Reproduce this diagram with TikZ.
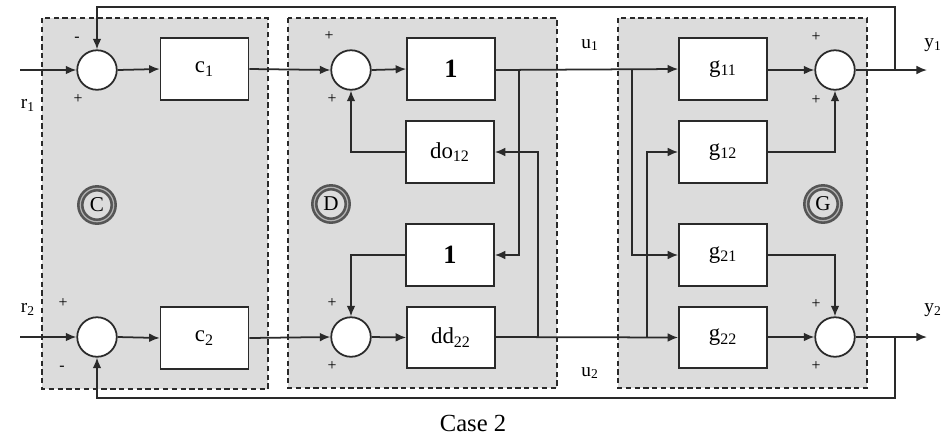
\documentclass[tikz,border=0pt]{standalone}
\usepackage{fontspec}
\setmainfont{Liberation Serif}
\usetikzlibrary{arrows.meta}
\definecolor{panelgray}{HTML}{DCDCDC}
\definecolor{linegray}{HTML}{2A2A2A}
\tikzset{
  panel/.style={draw=linegray, fill=panelgray, line width=1.1pt, dash pattern=on 3pt off 2pt},
  blk/.style={draw=linegray, fill=white, line width=1pt, minimum width=50pt, minimum height=35pt, inner sep=0pt, font=\fontsize{13}{15}\selectfont},
  sumnode/.style={circle, draw=linegray, fill=white, line width=1pt, minimum size=22.5pt, inner sep=0pt},
  wire/.style={draw=linegray, line width=1pt},
  arr/.style={wire, -{Latex[length=6pt,width=5pt]}},
  sgn/.style={font=\fontsize{9}{10}\selectfont, inner sep=0pt},
  lbl/.style={font=\fontsize{11}{13}\selectfont, inner sep=0pt},
  tag/.style={circle, draw=linegray!80, line width=1.5pt, minimum size=19pt, inner sep=0pt, double=gray!60, double distance=0.7pt, font=\fontsize{12}{14}\selectfont}
}
\begin{document}
\begin{tikzpicture}[x=0.02cm,y=-0.02cm]
\useasboundingbox[fill=white] (0,0) rectangle (951,441);
% panels
\draw[panel] (42,18) rectangle (268,389);
\draw[panel] (288,18) rectangle (557,388);
\draw[panel] (618,18) rectangle (867,388);
% panel tags
\node[tag] (tC) at (97,205) {C};
\node[tag] (tD) at (331,204) {D};
\node[tag] (tG) at (823,204) {G};
% summers
\node[sumnode] (sC1) at (97,70) {};
\node[sumnode] (sC2) at (97,337) {};
\node[sumnode] (sD1) at (351,70) {};
\node[sumnode] (sD2) at (351,337) {};
\node[sumnode] (sG1) at (835,70) {};
\node[sumnode] (sG2) at (835,337) {};
% blocks
\node[blk] (c1) at (204.5,69) {c\textsubscript{1}};
\node[blk] (c2) at (204.5,338) {c\textsubscript{2}};
\node[blk, font=\fontsize{15}{17}\selectfont\bfseries] (one1) at (451,69) {1};
\node[blk] (do12) at (450,152) {do\textsubscript{12}};
\node[blk, font=\fontsize{15}{17}\selectfont\bfseries] (one2) at (450,255) {1};
\node[blk] (dd22) at (451,337.5) {dd\textsubscript{22}};
\node[blk] (g11) at (723,69) {g\textsubscript{11}};
\node[blk] (g12) at (723,152) {g\textsubscript{12}};
\node[blk] (g21) at (723,255) {g\textsubscript{21}};
\node[blk] (g22) at (723,337.5) {g\textsubscript{22}};
% coordinates
\coordinate (in1) at (20,70);
\coordinate (in2) at (20,337);
\coordinate (out1) at (927,70);
\coordinate (out2) at (927,337);
\coordinate (fb1) at (895,70);
\coordinate (fb2) at (895,337);
\coordinate (j1) at (519,70);
\coordinate (j2) at (538,337);
\coordinate (j3) at (632,70);
\coordinate (j4) at (647,337);
% C
\draw[arr] (in1) -- (sC1.west);
\draw[arr] (in2) -- (sC2.west);
\draw[arr] (sC1.east) -- (c1.west);
\draw[arr] (sC2.east) -- (c2.west);
\draw[arr] (c1.east) -- (sD1.west);
\draw[arr] (c2.east) -- (sD2.west);
% D
\draw[arr] (sD1.east) -- (one1.west);
\draw[arr] (sD2.east) -- (dd22.west);
\draw[arr] (do12.west) -| (sD1.south);
\draw[arr] (one2.west) -| (sD2.north);
\draw[arr] (one1.east |- sD1) -- (g11.west);
\draw[arr] (dd22.east |- sD2) -- (g22.west);
\draw[arr] (j1) |- (one2.east);
\draw[arr] (j2) |- (do12.east);
\draw[arr] (j3) |- (g21.west);
\draw[arr] (j4) |- (g12.west);
% G
\draw[arr] (g11.east |- sG1) -- (sG1.west);
\draw[arr] (g22.east |- sG2) -- (sG2.west);
\draw[arr] (g12.east) -| (sG1.south);
\draw[arr] (g21.east) -| (sG2.north);
\draw[arr] (sG1.east) -- (out1);
\draw[arr] (sG2.east) -- (out2);
% feedback
\draw[arr] (fb1) -- (895,7) -| (sC1.north);
\draw[arr] (fb2) -- (895,398) -| (sC2.south);
% labels
\node[lbl] (lr1) at (28,105) {r\textsubscript{1}};
\node[lbl] (lr2) at (28,309) {r\textsubscript{2}};
\node[lbl] (lu1) at (590,45) {u\textsubscript{1}};
\node[lbl] (lu2) at (590,373) {u\textsubscript{2}};
\node[lbl] (ly1) at (933,45) {y\textsubscript{1}};
\node[lbl] (ly2) at (933,310) {y\textsubscript{2}};
% signs
\node[sgn] (m1) at (77,39) {-};
\node[sgn] (p1) at (78,99) {+};
\node[sgn] (p2) at (63,303) {+};
\node[sgn] (m2) at (62,368) {-};
\node[sgn] (p3) at (329,36) {+};
\node[sgn] (p4) at (332,99) {+};
\node[sgn] (p5) at (332,303) {+};
\node[sgn] (p6) at (332,366) {+};
\node[sgn] (p7) at (816,37) {+};
\node[sgn] (p8) at (816,100) {+};
\node[sgn] (p9) at (816,304) {+};
\node[sgn] (p10) at (816,366) {+};
\node[font=\fontsize{14}{16}\selectfont, inner sep=0pt] (cap) at (473,423) {Case 2};
\end{tikzpicture}
\end{document}
